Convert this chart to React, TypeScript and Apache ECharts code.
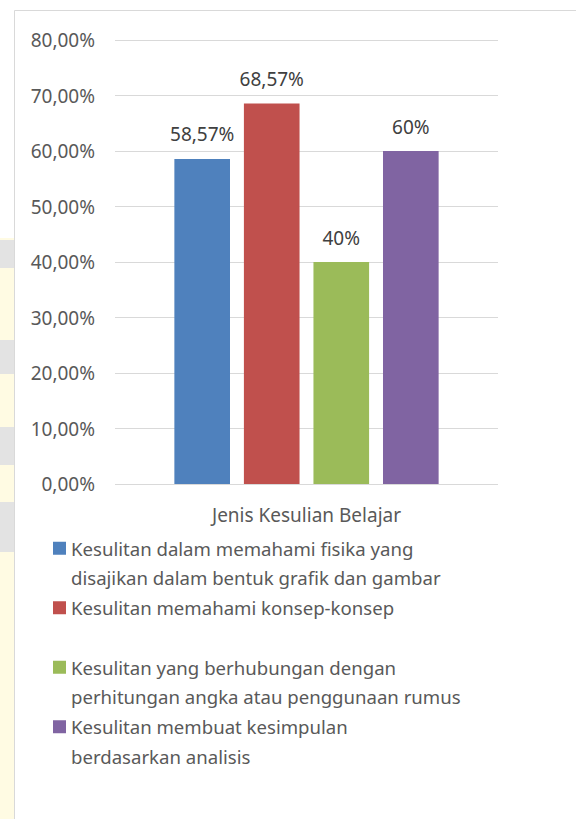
import React, { useEffect, useRef } from "react";
import * as echarts from "echarts";

const category = ["Jenis Kesulian Belajar"];
const seriesNames = [
  "Kesulitan dalam memahami fisika yang\ndisajikan dalam bentuk grafik dan gambar",
  "Kesulitan memahami konsep-konsep\n ",
  "Kesulitan yang berhubungan dengan\nperhitungan angka atau penggunaan rumus",
  "Kesulitan membuat kesimpulan\nberdasarkan analisis",
];
const values = [58.57, 68.57, 40, 60];
const valueLabels = ["58,57%", "68,57%", "40%", "60%"];
const colors = ["#4f81bd", "#c0504d", "#9bbb59", "#8064a2"];
const yTicks = [0, 10, 20, 30, 40, 50, 60, 70, 80];

const FONT = "'Noto Sans', 'Open Sans', sans-serif";

const strip = (y: number, h: number, fill: string) => ({
  type: "rect",
  z: -10,
  silent: true,
  shape: { x: 0, y, width: 14, height: h },
  style: { fill },
});

export default function App() {
  const ref = useRef<HTMLDivElement>(null);
  useEffect(() => {
    if (!ref.current) return;
    const chart = echarts.init(ref.current, null, { renderer: "svg" });
    chart.setOption({
      animation: false,
      backgroundColor: "#ffffff",
      textStyle: { fontFamily: FONT },
      graphic: [
        strip(238, 581, "#fffbe3"),
        strip(240, 28, "#e3e3e3"),
        strip(340, 34, "#e3e3e3"),
        strip(427, 38, "#e3e3e3"),
        strip(502, 50, "#e3e3e3"),
        {
          type: "rect",
          z: -9,
          shape: { x: 14.5, y: 10.5, width: 700, height: 900 },
          style: { fill: "none", stroke: "#d9d9d9", lineWidth: 1 },
          silent: true,
        },
      ],
      grid: { left: 115, right: 78, top: 40, bottom: 335, containLabel: false },
      xAxis: {
        type: "category",
        data: category,
        axisLine: { show: false },
        axisTick: { show: false },
        axisLabel: {
          color: "#595959",
          fontSize: 19,
          fontFamily: FONT,
          margin: 21,
        },
      },
      yAxis: {
        type: "value",
        min: yTicks[0],
        max: yTicks[yTicks.length - 1],
        interval: 10,
        axisLine: { show: false },
        axisTick: { show: false },
        splitLine: { lineStyle: { color: "#d9d9d9", width: 1 } },
        axisLabel: {
          color: "#595959",
          fontSize: 19,
          fontFamily: FONT,
          margin: 20,
          formatter: (v: number) => v.toFixed(2).replace(".", ",") + "%",
        },
      },
      legend: {
        orient: "vertical",
        left: 53,
        top: 504,
        padding: 0,
        itemWidth: 13,
        itemHeight: 13,
        itemGap: -29,
        icon: "rect",
        data: seriesNames,
        formatter: (name: string) => " \n" + name,
        textStyle: {
          color: "#595959",
          fontSize: 18.6,
          fontFamily: FONT,
          lineHeight: 29.5,
        },
      },
      series: seriesNames.map((name, i) => ({
        type: "bar",
        name,
        data: [values[i]],
        itemStyle: { color: colors[i] },
        barGap: "25%",
        barCategoryGap: "31%",
        label: {
          show: true,
          position: "top",
          distance: 15,
          color: "#404040",
          fontSize: 19,
          fontFamily: FONT,
          formatter: () => valueLabels[i],
        },
      })),
    });
    return () => chart.dispose();
  }, []);
  return (
    <div
      ref={ref}
      style={{ position: "fixed", left: 0, top: 0, width: 576, height: 819 }}
    />
  );
}
